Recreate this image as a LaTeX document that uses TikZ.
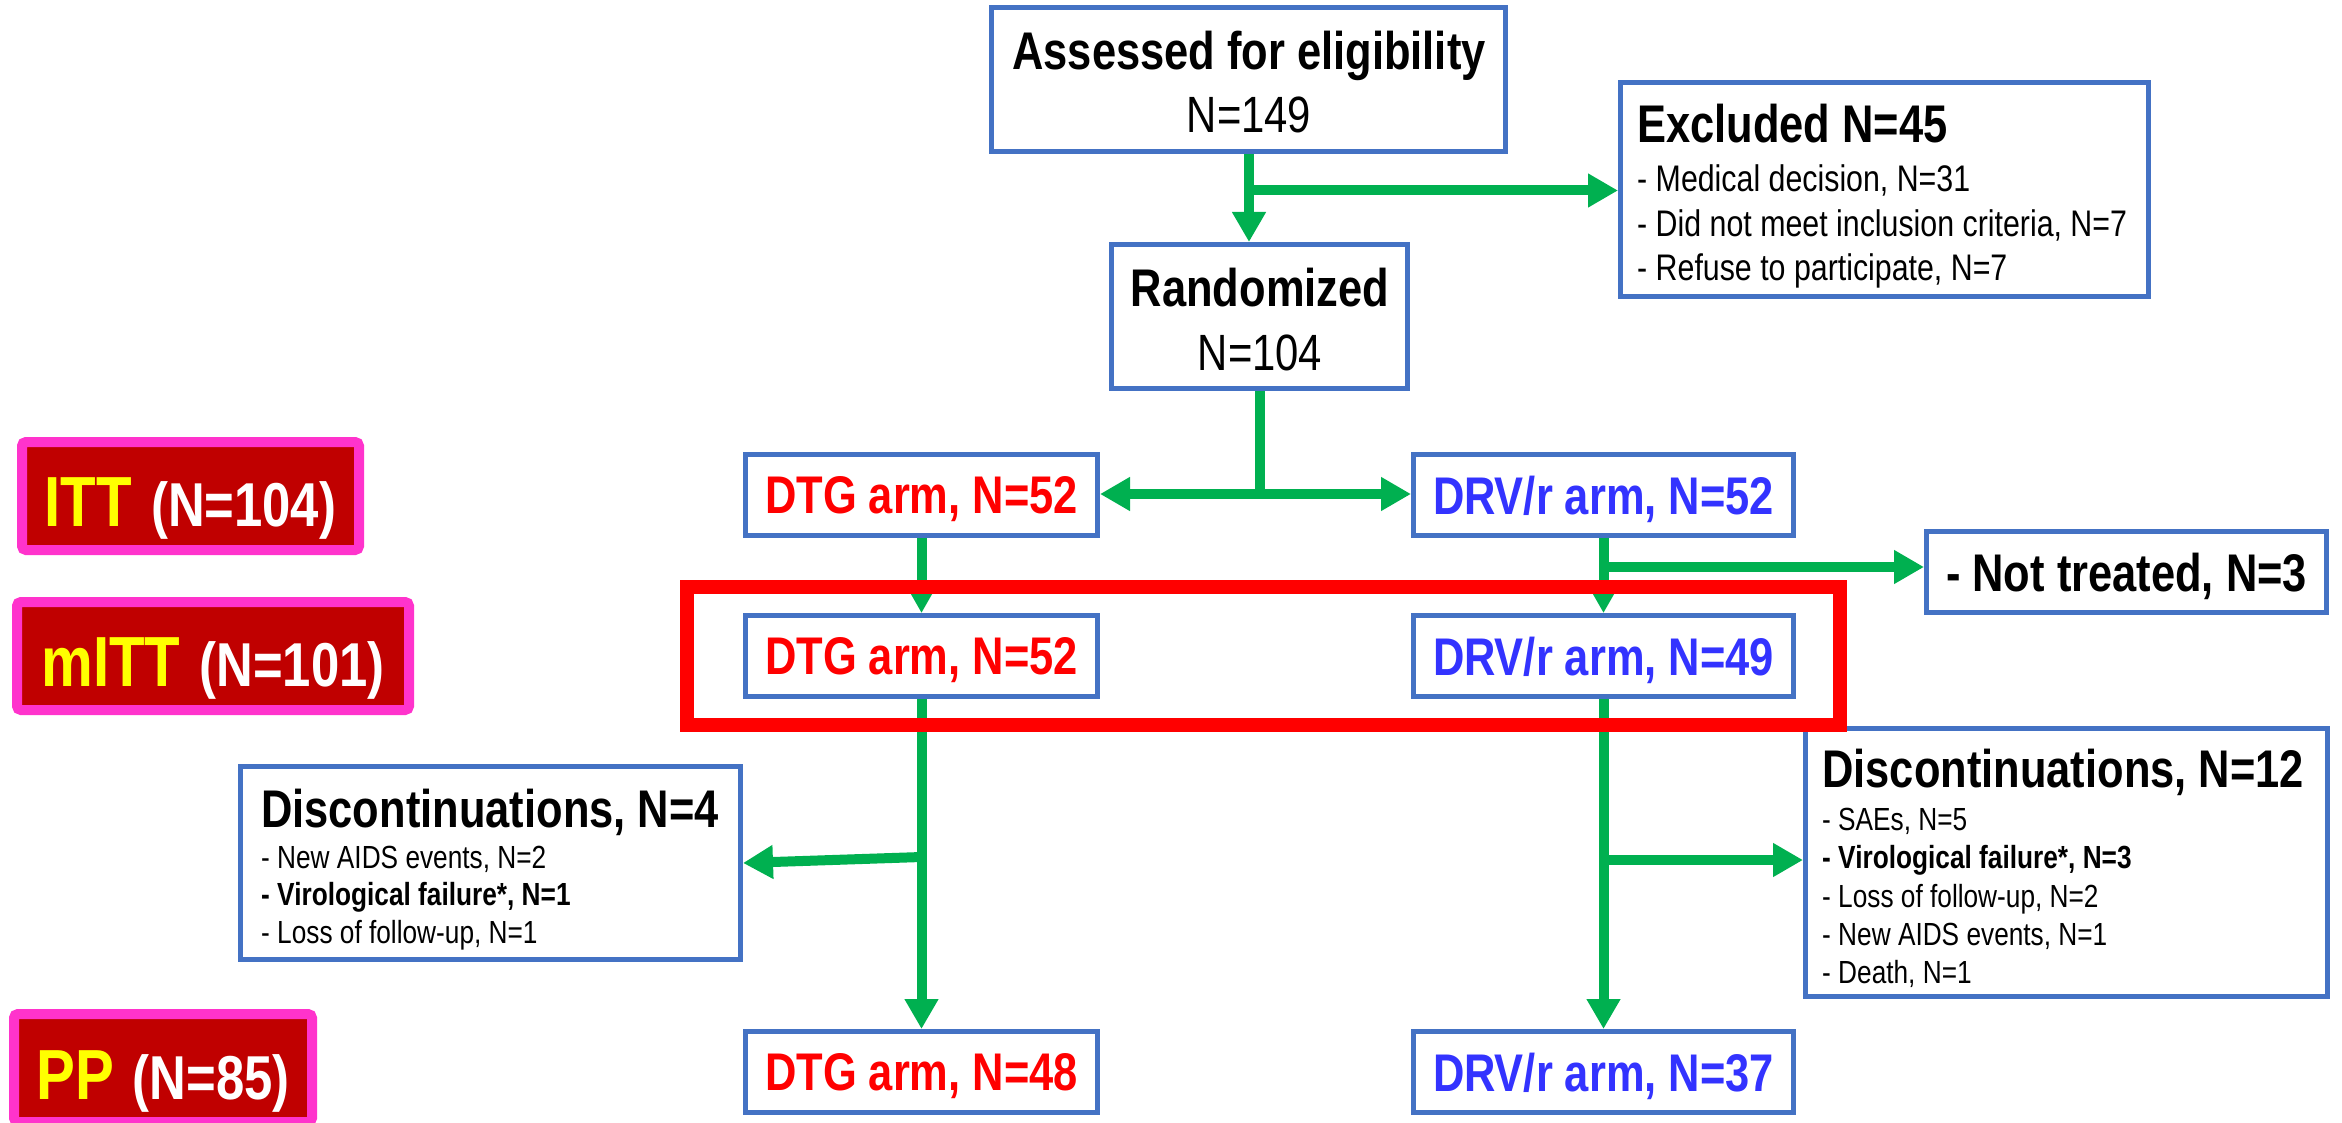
\documentclass[tikz,border=0pt]{standalone}
\usepackage{fontspec}
\setmainfont{Liberation Sans}[FakeStretch=0.82]
\usetikzlibrary{arrows.meta}

\definecolor{boxblue}{HTML}{4472C4}
\definecolor{flowgreen}{HTML}{00B050}
\definecolor{armred}{HTML}{FF0000}
\definecolor{armblue}{HTML}{3333FF}
\definecolor{labfill}{HTML}{C00000}
\definecolor{labpink}{HTML}{FF33CC}
\definecolor{labyellow}{HTML}{FFFF00}

\newcommand\flowtitle{\fontsize{53}{60}\selectfont\bfseries}
\newcommand\flowmain{\fontsize{51}{60}\selectfont}
\newcommand\excitem{\fontsize{37}{44}\selectfont}
\newcommand\discitem{\fontsize{32}{38}\selectfont}
\newcommand\setbig{\fontsize{71}{80}\selectfont\bfseries}
\newcommand\setsmall{\fontsize{62}{70}\selectfont\bfseries}

\tikzset{
  box/.style={draw=boxblue, line width=5pt, fill=white, inner sep=0pt},
  armbox/.style={box, minimum width=352pt, minimum height=81pt, text depth=0pt, font=\flowtitle},
  drvbox/.style={armbox, minimum width=380pt, text=armblue},
  dtgbox/.style={armbox, text=armred},
  txt/.style={inner sep=0pt},
  flow/.style={draw=flowgreen, line width=10pt},
  arr/.style={flow, -{Triangle[length=30pt,width=32pt]}},
  arrsmall/.style={flow, -{Triangle[length=22pt,width=23pt]}},
  setlabel/.style={draw=labpink, fill=labfill, line width=10pt, rounded corners=4pt},
}

\begin{document}
\begin{tikzpicture}[x=1pt, y=-1pt]
\useasboundingbox (0,0) rectangle (2342,1123);
\clip (0,0) rectangle (2342,1123);

% ---------- boxes ----------
\node[box, minimum width=514pt, minimum height=144pt] (assess) at (1248.5,79.5) {};
\node[txt, anchor=base, font=\flowtitle] (assess-t) at (1249,70) {Assessed for eligibility};
\node[txt, anchor=base, font=\flowmain] (assess-n) at (1249,133) {N=149};

\node[box, minimum width=528pt, minimum height=214pt] (excl) at (1884.5,189.5) {};
\node[txt, anchor=base west, font=\flowtitle] (excl-t) at (1637,143) {Excluded N=45};
\node[txt, anchor=base west, font=\excitem] (excl-1) at (1637,192) {- Medical decision, N=31};
\node[txt, anchor=base west, font=\excitem] (excl-2) at (1637,237) {- Did not meet inclusion criteria, N=7};
\node[txt, anchor=base west, font=\excitem] (excl-3) at (1637,281) {- Refuse to participate, N=7};

\node[box, minimum width=296pt, minimum height=144pt] (rand) at (1259.5,316.5) {};
\node[txt, anchor=base, font=\flowtitle] (rand-t) at (1260,307) {Randomized};
\node[txt, anchor=base, font=\flowmain] (rand-n) at (1260,370) {N=104};

\node[dtgbox] (dtg1) at (921.5,495) {DTG arm, N=52};
\node[drvbox] (drv1) at (1603.5,495) {DRV/r arm, N=52};
\node[box, minimum width=400pt, minimum height=81pt, text depth=0pt, font=\flowtitle] (notr) at (2126.5,572) {- Not treated, N=3};

\node[dtgbox] (dtg2) at (921.5,656) {DTG arm, N=52};
\node[drvbox] (drv2) at (1603.5,656) {DRV/r arm, N=49};

\node[box, minimum width=500pt, minimum height=193pt] (disc4) at (490.5,863) {};
\node[txt, anchor=base west, font=\flowtitle] (disc4-t) at (261,827) {Discontinuations, N=4};
\node[txt, anchor=base west, font=\discitem] (disc4-1) at (261,868) {- New AIDS events, N=2};
\node[txt, anchor=base west, font=\discitem] (disc4-2) at (261,905.5) {\bfseries - Virological failure*, N=1};
\node[txt, anchor=base west, font=\discitem] (disc4-3) at (261,943) {- Loss of follow-up, N=1};

\node[box, minimum width=522pt, minimum height=268pt] (disc12) at (2066.5,862.5) {};
\node[txt, anchor=base west, font=\flowtitle] (disc12-t) at (1822,787) {Discontinuations, N=12};
\node[txt, anchor=base west, font=\discitem] (disc12-1) at (1822,830) {- SAEs, N=5};
\node[txt, anchor=base west, font=\discitem] (disc12-2) at (1822,868) {\bfseries - Virological failure*, N=3};
\node[txt, anchor=base west, font=\discitem] (disc12-3) at (1822,907) {- Loss of follow-up, N=2};
\node[txt, anchor=base west, font=\discitem] (disc12-4) at (1822,945) {- New AIDS events, N=1};
\node[txt, anchor=base west, font=\discitem] (disc12-5) at (1822,983) {- Death, N=1};

\node[dtgbox] (dtg3) at (921.5,1072) {DTG arm, N=48};
\node[drvbox] (drv3) at (1603.5,1072) {DRV/r arm, N=37};

% ---------- connectors ----------
\coordinate (exbranch) at (1249,190.5);
\draw[arr] (assess.south -| exbranch) -- (rand.north -| exbranch);
\draw[arr] (exbranch) -- (excl.west |- exbranch);

\coordinate (split) at (1260,494);
\draw[flow] (rand.south -| split) -- (split);
\draw[flow, {Triangle[length=30pt,width=32pt]}-{Triangle[length=30pt,width=32pt]}] (dtg1.east |- split) -- (drv1.west |- split);

\draw[arrsmall] (dtg1) -- (dtg2);
\draw[arrsmall] (drv1) -- (drv2);
\coordinate (ntbranch) at (1603.5,567);
\draw[arr] (ntbranch) -- (notr.west |- ntbranch);

\draw[arr] (dtg2) -- (dtg3);
\coordinate (d4branch) at (921.5,857);
\draw[arr] (d4branch) -- (disc4.east);

\draw[arr] (drv2) -- (drv3);
\coordinate (d12branch) at (1603.5,860);
\draw[arr] (d12branch) -- (disc12.west |- d12branch);

% ---------- frame round the mITT row ----------
\draw[draw=armred, line width=14pt] (687,587) rectangle (1840,725);

% ---------- analysis set labels ----------
\draw[setlabel] (22,442) rectangle (359,550);
\node[txt, anchor=base] (itt) at (190.5,526) {\setbig\color{labyellow}ITT\hspace{19pt}\setsmall\color{white}(N=104)};
\draw[setlabel] (17,602) rectangle (409,710);
\node[txt, anchor=base] (mitt) at (213,686) {\setbig\color{labyellow}mITT\hspace{19pt}\setsmall\color{white}(N=101)};
\draw[setlabel] (14,1014) rectangle (312,1122);
\node[txt, anchor=base] (pp) at (163,1099) {\setbig\color{labyellow}PP\hspace{19pt}\setsmall\color{white}(N=85)};
\end{tikzpicture}
\end{document}
